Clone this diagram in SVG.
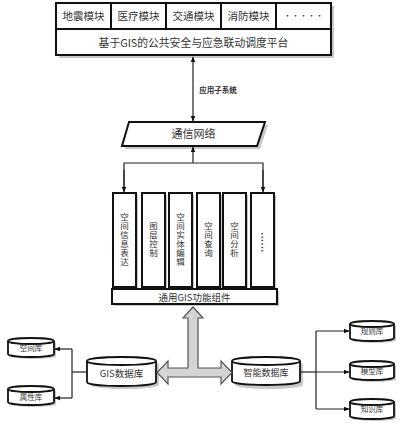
<svg xmlns="http://www.w3.org/2000/svg" width="400" height="427" viewBox="0 0 400 427">
<defs>
<style>
.t{font-family:"Noto Sans CJK SC","Noto Sans",sans-serif;fill:#333;text-anchor:middle}
.v{font-family:"Noto Sans CJK SC","Noto Sans",sans-serif;fill:#333;text-anchor:middle;writing-mode:vertical-rl;font-size:8.5px;letter-spacing:0.5px}
.box{fill:#fff;stroke:#111;stroke-width:2}
.sh{fill:#c8c8c8}
.ln{fill:none;stroke:#222;stroke-width:1.2}
.cyl{fill:#fff;stroke:#111;stroke-width:1.8}
</style>
<marker id="ah" viewBox="0 0 10 10" refX="9" refY="5" markerWidth="6" markerHeight="6" orient="auto-start-reverse" markerUnits="userSpaceOnUse">
<path d="M0,1 L10,5 L0,9 Z" fill="#111"/>
</marker>
</defs>
<rect width="400" height="427" fill="#fff"/>

<g id="platform">
<rect class="sh" x="59" y="6" width="275" height="52"/>
<rect class="box" x="56" y="3" width="275" height="52"/>
<line x1="56" y1="29" x2="331" y2="29" stroke="#111" stroke-width="2"/>
<line x1="111" y1="3" x2="111" y2="29" stroke="#111" stroke-width="2"/>
<line x1="166" y1="3" x2="166" y2="29" stroke="#111" stroke-width="2"/>
<line x1="221" y1="3" x2="221" y2="29" stroke="#111" stroke-width="2"/>
<line x1="276" y1="3" x2="276" y2="29" stroke="#111" stroke-width="2"/>
<text class="t" x="83.5" y="20" font-size="10.5">地震模块</text>
<text class="t" x="138.5" y="20" font-size="10.5">医疗模块</text>
<text class="t" x="193.5" y="20" font-size="10.5">交通模块</text>
<text class="t" x="248.5" y="20" font-size="10.5">消防模块</text>
<text class="t" x="303.5" y="19" font-size="8" fill="#888">·····</text>
<text class="t" x="193.5" y="46.5" font-size="10.8">基于GIS的公共安全与应急联动调度平台</text>
</g>

<g id="network">
<polygon class="sh" points="132,125 268,125 260,149 125,149"/>
<polygon class="box" points="129,122 265,122 257,146 122,146"/>
<text class="t" x="193.5" y="138" font-size="11">通信网络</text>
</g>

<g id="modules">
<rect class="sh" x="115" y="195" width="23" height="94"/>
<rect class="box" x="113" y="193" width="23" height="94"/>
<rect class="sh" x="144" y="195" width="23" height="94"/>
<rect class="box" x="142" y="193" width="23" height="94"/>
<rect class="sh" x="171" y="195" width="23" height="94"/>
<rect class="box" x="169" y="193" width="23" height="94"/>
<rect class="sh" x="199" y="195" width="23" height="94"/>
<rect class="box" x="197" y="193" width="23" height="94"/>
<rect class="sh" x="225" y="195" width="23" height="94"/>
<rect class="box" x="223" y="193" width="23" height="94"/>
<rect class="sh" x="253" y="195" width="23" height="94"/>
<rect class="box" x="251" y="193" width="23" height="94"/>
<text class="v" x="124.5" y="240">空间信息表达</text>
<text class="v" x="153.5" y="240">图层控制</text>
<text class="v" x="180.5" y="240">空间实体编辑</text>
<text class="v" x="208.5" y="240">空间查询</text>
<text class="v" x="234.5" y="240">空间分析</text>
<text class="v" x="262.5" y="240" fill="#555" style="font-size:8px;letter-spacing:-4.6px">······</text>
</g>

<g id="gisbase">
<rect class="sh" x="114" y="291" width="165" height="15"/>
<rect class="box" x="112" y="289" width="165" height="15"/>
<text class="t" x="194.5" y="300.5" font-size="9.5">通用GIS功能组件</text>
</g>

<g id="gisdb">
<path class="sh" d="M90,364 A34.5,4 0 0 1 159,364 V385 A34.5,4 0 0 1 90,385 Z"/>
<path class="cyl" d="M87,361 A34.5,4 0 0 1 156,361 V382 A34.5,4 0 0 1 87,382 Z"/>
<path class="cyl" d="M87,361 A34.5,4 0 0 0 156,361"/>
<text class="t" x="121.5" y="376.5" font-size="9.5">GIS数据库</text>
</g>

<g id="smartdb">
<path class="sh" d="M235,364 A34,4 0 0 1 303,364 V385 A34,4 0 0 1 235,385 Z"/>
<path class="cyl" d="M232,361 A34,4 0 0 1 300,361 V381 A34,4 0 0 1 232,381 Z"/>
<path class="cyl" d="M232,361 A34,4 0 0 0 300,361"/>
<text class="t" x="266" y="376" font-size="9">智能数据库</text>
</g>

<g id="spacedb">
<path class="sh" d="M10,343 A23,3 0 0 1 56,343 V356 A23,3 0 0 1 10,356 Z"/>
<path class="cyl" d="M8,341 A23,3 0 0 1 54,341 V354 A23,3 0 0 1 8,354 Z"/>
<path class="cyl" d="M8,341 A23,3 0 0 0 54,341"/>
<text class="t" x="31" y="351" font-size="7.5">空间库</text>
</g>

<g id="attrdb">
<path class="sh" d="M10,391 A23,3 0 0 1 56,391 V404 A23,3 0 0 1 10,404 Z"/>
<path class="cyl" d="M8,389 A23,3 0 0 1 54,389 V402 A23,3 0 0 1 8,402 Z"/>
<path class="cyl" d="M8,389 A23,3 0 0 0 54,389"/>
<text class="t" x="31" y="399.5" font-size="7.5">属性库</text>
</g>

<g id="ruledb">
<path class="sh" d="M352,326 A22,3 0 0 1 396,326 V340 A22,3 0 0 1 352,340 Z"/>
<path class="cyl" d="M350,324 A22,3 0 0 1 394,324 V338 A22,3 0 0 1 350,338 Z"/>
<path class="cyl" d="M350,324 A22,3 0 0 0 394,324"/>
<text class="t" x="372" y="334" font-size="7.5">规则库</text>
</g>

<g id="modeldb">
<path class="sh" d="M352,366 A22,3 0 0 1 396,366 V379 A22,3 0 0 1 352,379 Z"/>
<path class="cyl" d="M350,364 A22,3 0 0 1 394,364 V377 A22,3 0 0 1 350,377 Z"/>
<path class="cyl" d="M350,364 A22,3 0 0 0 394,364"/>
<text class="t" x="372" y="374" font-size="7.5">模型库</text>
</g>

<g id="knowdb">
<path class="sh" d="M352,404 A22,3 0 0 1 396,404 V418 A22,3 0 0 1 352,418 Z"/>
<path class="cyl" d="M350,402 A22,3 0 0 1 394,402 V416 A22,3 0 0 1 350,416 Z"/>
<path class="cyl" d="M350,402 A22,3 0 0 0 394,402"/>
<text class="t" x="372" y="412" font-size="7.5">知识库</text>
</g>

<g id="connectors">
<line class="ln" x1="193" y1="57" x2="193" y2="121" marker-start="url(#ah)" marker-end="url(#ah)"/>
<text class="t" x="218" y="93" font-size="7.5" font-weight="bold">应用子系统</text>
<line class="ln" x1="193" y1="163" x2="193" y2="147" marker-end="url(#ah)"/>
<polyline class="ln" points="124,191 124,163 263,163 263,191"/>
<line class="ln" x1="124" y1="170" x2="124" y2="192" marker-end="url(#ah)"/>
<line class="ln" x1="263" y1="170" x2="263" y2="192" marker-end="url(#ah)"/>
<path d="M193,307 L203,318 L198,318 L198,368 L221,368 L221,361 L232,372.5 L221,384 L221,377 L168,377 L168,384 L157,372.5 L168,361 L168,368 L188,368 L188,318 L183,318 Z" fill="#d4d4d4" stroke="#555" stroke-width="1.2"/>
<polyline class="ln" points="87,372 72,372"/>
<line class="ln" x1="72" y1="349" x2="72" y2="398"/>
<line class="ln" x1="72" y1="349" x2="55" y2="349" marker-end="url(#ah)"/>
<line class="ln" x1="72" y1="398" x2="55" y2="398" marker-end="url(#ah)"/>
<line class="ln" x1="300" y1="372" x2="316" y2="372"/>
<line class="ln" x1="316" y1="331" x2="316" y2="409"/>
<line class="ln" x1="316" y1="331" x2="349" y2="331" marker-end="url(#ah)"/>
<line class="ln" x1="316" y1="372" x2="349" y2="372" marker-end="url(#ah)"/>
<line class="ln" x1="316" y1="409" x2="349" y2="409" marker-end="url(#ah)"/>
</g>
</svg>
